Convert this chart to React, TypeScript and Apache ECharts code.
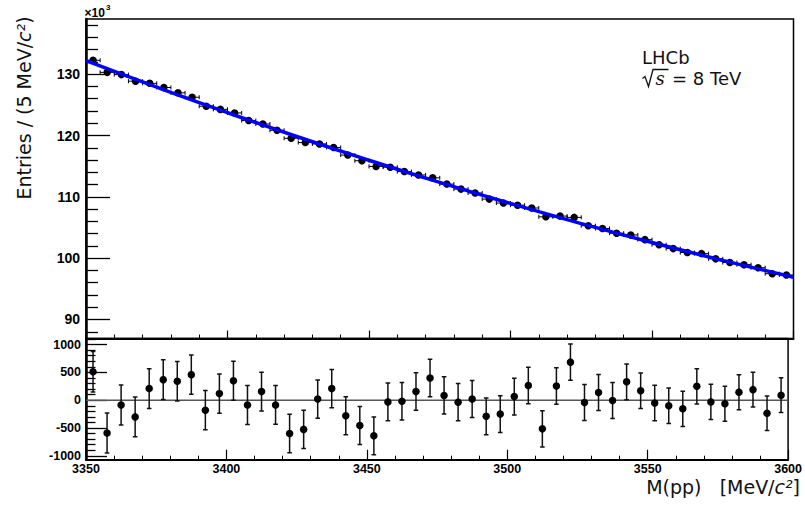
import React, { useEffect, useRef } from "react";
import * as echarts from "echarts";

// Bin centres of M(pp) [MeV/c^2], 5 MeV bins
const massBins = [
  3352.5, 3357.5, 3362.5, 3367.5, 3372.5, 3377.5, 3382.5, 3387.5, 3392.5, 3397.5,
  3402.5, 3407.5, 3412.5, 3417.5, 3422.5, 3427.5, 3432.5, 3437.5, 3442.5, 3447.5,
  3452.5, 3457.5, 3462.5, 3467.5, 3472.5, 3477.5, 3482.5, 3487.5, 3492.5, 3497.5,
  3502.5, 3507.5, 3512.5, 3517.5, 3522.5, 3527.5, 3532.5, 3537.5, 3542.5, 3547.5,
  3552.5, 3557.5, 3562.5, 3567.5, 3572.5, 3577.5, 3582.5, 3587.5, 3592.5, 3597.5,
];

// Entries per bin (x10^3)
const entriesK = [
  132.27, 130.3, 129.93, 128.86, 128.51, 127.83, 126.96, 126.24, 124.78, 124.26,
  123.68, 122.44, 121.88, 120.85, 119.55, 118.85, 118.63, 118.05, 116.81, 115.89,
  114.96, 114.83, 114.12, 113.57, 113.1, 112.08, 111.26, 110.63, 109.63, 108.99,
  108.64, 108.18, 106.74, 106.86, 106.65, 105.29, 104.84, 104.07, 103.79, 103.02,
  102.2, 101.56, 100.92, 100.74, 99.89, 99.29, 98.94, 98.44, 97.47, 97.26,
];

// Statistical uncertainty per bin (entries)
const entryErrors = [
  364, 361, 360, 359, 358, 358, 356, 355, 353, 353,
  352, 350, 349, 348, 346, 345, 344, 344, 342, 340,
  339, 339, 338, 337, 336, 335, 334, 333, 331, 330,
  330, 329, 327, 327, 327, 324, 324, 323, 322, 321,
  320, 319, 318, 317, 316, 315, 315, 314, 312, 312,
];

// Residuals data - fit (entries)
const residuals = [
  510, -590, -85, -300, 210, 370, 340, 460, -180, 120,
  350, -85, 155, -85, -600, -525, 20, 210, -280, -455,
  -640, -30, -20, 155, 400, 85, -35, 20, -290, -250,
  65, 265, -515, 255, 685, -40, 140, -5, 330, 170,
  -50, -100, -155, 250, -30, -65, 145, 190, -235, 90,
];

// Fit curve (x10^3)
const fitMass = [3350, 3375, 3400, 3425, 3450, 3475, 3500, 3525, 3550, 3575, 3600];
const fitK = [132.2, 127.88, 123.73, 119.76, 115.97, 112.35, 108.91, 105.64, 102.55, 99.64, 96.9];

// Tick values
const massTicks = [3350, 3400, 3450, 3500, 3550, 3600];
const topTicks = [90, 100, 110, 120, 130];
const topMinorTicks = [88, 92, 94, 96, 98, 102, 104, 106, 108, 112, 114, 116, 118, 122, 124, 126, 128, 132, 134, 136, 138];
const bottomTicks = [-1000, -500, 0, 500, 1000];
const bottomMinorTicks = [-900, -800, -700, -600, -400, -300, -200, -100, 100, 200, 300, 400, 600, 700, 800, 900, 1100];

const binHalfWidth = 2.5;

const LABEL_FONT = "'Liberation Sans', Arial, sans-serif";
const TEXT_FONT = "'DejaVu Sans', sans-serif";

export default function App() {
  const ref = useRef<HTMLDivElement>(null);

  useEffect(() => {
    if (!ref.current) return;
    const chart = echarts.init(ref.current, undefined, { renderer: "svg" });

    const topPoints = massBins.map((m, i) => [m, entriesK[i]]);
    const topErr = massBins.map((m, i) => [m, entriesK[i], entryErrors[i] / 1000]);
    const fitData = fitMass.map((m, i) => [m, fitK[i]]);
    const botPoints = massBins.map((m, i) => [m, residuals[i]]);
    const botErr = massBins.map((m, i) => [m, residuals[i], entryErrors[i]]);

    const black = "#000";
    const plain = (v: number) => String(v);

    const topErrRender = (params: any, api: any) => {
      const x = api.value(0);
      const y = api.value(1);
      const e = api.value(2);
      const l = api.coord([x - binHalfWidth, y]);
      const r = api.coord([x + binHalfWidth, y]);
      const t = api.coord([x, y + e]);
      const b = api.coord([x, y - e]);
      const st = { stroke: black, lineWidth: 1 };
      return {
        type: "group",
        children: [
          { type: "line", shape: { x1: l[0], y1: l[1], x2: r[0], y2: r[1] }, style: st },
          { type: "line", shape: { x1: l[0], y1: l[1] - 2, x2: l[0], y2: l[1] + 2 }, style: st },
          { type: "line", shape: { x1: r[0], y1: r[1] - 2, x2: r[0], y2: r[1] + 2 }, style: st },
          { type: "line", shape: { x1: t[0], y1: t[1], x2: b[0], y2: b[1] }, style: st },
        ],
      };
    };

    const botErrRender = (params: any, api: any) => {
      const x = api.value(0);
      const y = api.value(1);
      const e = api.value(2);
      const t = api.coord([x, y + e]);
      const b = api.coord([x, y - e]);
      const st = { stroke: "#111", lineWidth: 1.5 };
      return {
        type: "group",
        children: [
          { type: "line", shape: { x1: t[0], y1: t[1], x2: b[0], y2: b[1] }, style: st },
          { type: "line", shape: { x1: t[0] - 2.3, y1: t[1], x2: t[0] + 2.3, y2: t[1] }, style: st },
          { type: "line", shape: { x1: b[0] - 2.3, y1: b[1], x2: b[0] + 2.3, y2: b[1] }, style: st },
        ],
      };
    };

    const xBase = (gridIndex: number, tickLen: number, showLabel: boolean) => ({
      gridIndex,
      type: "value",
      min: 3350,
      max: 3600,
      interval: 50,
      axisLine: { show: true, onZero: false, lineStyle: { color: black, width: 2 } },
      axisTick: { show: true, inside: true, length: tickLen, lineStyle: { color: black, width: 1.2 } },
      minorTick: { show: true, splitNumber: 5, length: 4, lineStyle: { color: black, width: 1 } },
      splitLine: { show: false },
      minorSplitLine: { show: false },
      axisLabel: showLabel
        ? {
            show: true,
            showMinLabel: true,
            showMaxLabel: true,
            customValues: massTicks,
            formatter: plain,
            fontFamily: LABEL_FONT,
            fontWeight: "bold",
            fontSize: 12.5,
            color: black,
            margin: 3,
          }
        : { show: false },
    });

    const option: any = {
      animation: false,
      backgroundColor: "#fff",
      grid: [
        { left: 86, top: 19, width: 707.5, height: 319.5, show: true, borderColor: black, borderWidth: 1.5, backgroundColor: "transparent" },
        { left: 86, top: 338.5, width: 707.5, height: 121.2, show: true, borderColor: black, borderWidth: 1.5, backgroundColor: "transparent" },
      ],
      xAxis: [xBase(0, 8, false), xBase(1, 10, true)],
      yAxis: [
        {
          gridIndex: 0,
          type: "value",
          min: 86.9,
          max: 139,
          position: "left",
          axisLine: { show: true, onZero: false, lineStyle: { color: black, width: 2.5 } },
          axisTick: { show: true, inside: true, length: 24, customValues: topTicks, lineStyle: { color: black, width: 1.3 } },
          axisLabel: { customValues: topTicks, formatter: plain, fontFamily: LABEL_FONT, fontWeight: "bold", fontSize: 14, color: black, margin: 6 },
          splitLine: { show: false },
        },
        {
          gridIndex: 0,
          type: "value",
          min: 86.9,
          max: 139,
          position: "left",
          axisLine: { show: false },
          axisTick: { show: true, inside: true, length: 12, customValues: topMinorTicks, lineStyle: { color: black, width: 1.3 } },
          axisLabel: { show: false },
          splitLine: { show: false },
        },
        {
          gridIndex: 1,
          type: "value",
          min: -1070,
          max: 1110,
          position: "left",
          axisLine: { show: true, onZero: false, lineStyle: { color: black, width: 2.5 } },
          axisTick: { show: true, inside: true, length: 21, customValues: bottomTicks, lineStyle: { color: black, width: 1.3 } },
          axisLabel: { customValues: bottomTicks, formatter: plain, fontFamily: LABEL_FONT, fontWeight: "bold", fontSize: 12.5, color: black, margin: 5 },
          splitLine: { show: false },
        },
        {
          gridIndex: 1,
          type: "value",
          min: -1070,
          max: 1110,
          position: "left",
          axisLine: { show: false },
          axisTick: { show: true, inside: true, length: 9.5, customValues: bottomMinorTicks, lineStyle: { color: black, width: 1.3 } },
          axisLabel: { show: false },
          splitLine: { show: false },
        },
      ],
      series: [
        {
          type: "custom",
          xAxisIndex: 0,
          yAxisIndex: 0,
          renderItem: topErrRender,
          data: topErr,
          encode: { x: 0, y: 1 },
          clip: true,
          silent: true,
          z: 2,
        },
        {
          type: "scatter",
          xAxisIndex: 0,
          yAxisIndex: 0,
          data: topPoints,
          symbol: "circle",
          symbolSize: 7.5,
          itemStyle: { color: black, opacity: 1 },
          silent: true,
          z: 3,
        },
        {
          type: "line",
          xAxisIndex: 0,
          yAxisIndex: 0,
          data: fitData,
          smooth: true,
          showSymbol: false,
          symbol: "none",
          lineStyle: { color: "#0000ff", width: 3.5 },
          silent: true,
          z: 4,
        },
        {
          type: "line",
          xAxisIndex: 1,
          yAxisIndex: 2,
          data: [
            [3350, 0],
            [3600, 0],
          ],
          symbol: "none",
          lineStyle: { color: "#555", width: 1.5 },
          silent: true,
          z: 1,
        },
        {
          type: "custom",
          xAxisIndex: 1,
          yAxisIndex: 2,
          renderItem: botErrRender,
          data: botErr,
          encode: { x: 0, y: 1 },
          clip: true,
          silent: true,
          z: 2,
        },
        {
          type: "scatter",
          xAxisIndex: 1,
          yAxisIndex: 2,
          data: botPoints,
          symbol: "circle",
          symbolSize: 7.5,
          itemStyle: { color: black, opacity: 1 },
          silent: true,
          z: 3,
        },
      ],
      graphic: [
        {
          type: "text",
          x: 84.5,
          y: 12.5,
          style: { text: "×10", font: `bold 12px ${LABEL_FONT}`, fill: black, textAlign: "left", textVerticalAlign: "middle" },
        },
        {
          type: "text",
          x: 106,
          y: 7,
          style: { text: "3", font: `bold 8px ${LABEL_FONT}`, fill: black, textAlign: "left", textVerticalAlign: "middle" },
        },
        {
          type: "text",
          x: 24,
          y: 108,
          rotation: Math.PI / 2,
          style: {
            text: "{n|Entries / (5 MeV/}{i|c²}{n|)}",
            fill: "#111",
            textAlign: "center",
            textVerticalAlign: "middle",
            rich: {
              n: { fontFamily: TEXT_FONT, fontSize: 19, fill: "#111" },
              i: { fontFamily: TEXT_FONT, fontSize: 19, fontStyle: "italic", fill: "#111" },
            },
          },
        },
        {
          type: "text",
          x: 800,
          y: 487,
          style: {
            text: "{n|M(pp)   [MeV/}{i|c²}{n|]}",
            fill: "#111",
            textAlign: "right",
            textVerticalAlign: "middle",
            rich: {
              n: { fontFamily: TEXT_FONT, fontSize: 19, fill: "#111" },
              i: { fontFamily: TEXT_FONT, fontSize: 19, fontStyle: "italic", fill: "#111" },
            },
          },
        },
        {
          type: "text",
          x: 642,
          y: 57.7,
          style: { text: "LHCb", font: `18px ${TEXT_FONT}`, fill: "#111", textAlign: "left", textVerticalAlign: "middle" },
        },
        {
          type: "polyline",
          shape: {
            points: [
              [642.5, 78.5],
              [645, 76.5],
              [648.5, 86.5],
              [653, 69.5],
              [668.5, 69.5],
            ],
          },
          style: { stroke: "#111", lineWidth: 1.3, fill: null },
        },
        {
          type: "text",
          x: 655.5,
          y: 78.7,
          style: { text: "s", font: `italic 18px 'DejaVu Serif', serif`, fill: "#111", textAlign: "left", textVerticalAlign: "middle" },
        },
        {
          type: "text",
          x: 672,
          y: 78.7,
          style: { text: "= 8 TeV", font: `18px ${TEXT_FONT}`, fill: "#111", textAlign: "left", textVerticalAlign: "middle" },
        },
      ],
    };

    chart.setOption(option);
    return () => {
      chart.dispose();
    };
  }, []);

  return (
    <div
      ref={ref}
      style={{ position: "fixed", left: 0, top: 0, width: 805, height: 507, background: "#fff" }}
    />
  );
}
